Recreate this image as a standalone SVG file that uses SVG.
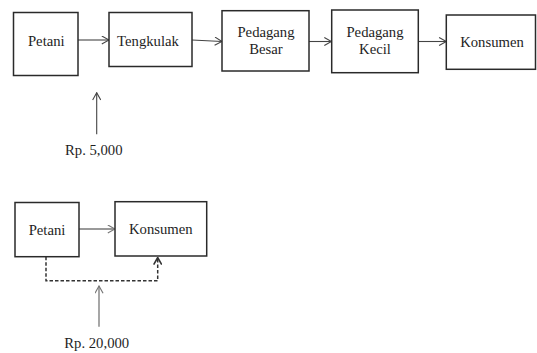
<svg xmlns="http://www.w3.org/2000/svg" width="537" height="353" viewBox="0 0 537 353">
<defs>
<style>
.box{fill:#fff;stroke:#2a2a2a;stroke-width:1.5}
.lbl{font-family:"Liberation Serif",Tinos,"Times New Roman",Times,"DejaVu Serif","Noto Serif",serif;font-size:14.7px;fill:#1e1e1e;text-anchor:middle}
.price{font-family:"Liberation Serif",Tinos,"Times New Roman",Times,"DejaVu Serif","Noto Serif",serif;font-size:14.7px;fill:#1e1e1e}
.c{fill:none;stroke:#444;stroke-width:1.1}
.cg{fill:none;stroke:#777;stroke-width:1.3}
.dash{fill:none;stroke:#333;stroke-width:1.5;stroke-dasharray:3.5 2}
</style>
<marker id="ah" viewBox="0 0 10 10" refX="9" refY="5" markerWidth="9" markerHeight="9" markerUnits="userSpaceOnUse" orient="auto">
<path d="M1,0.5 L9,5 L1,9.5" fill="none" stroke="#444" stroke-width="1.2"/>
</marker>
<marker id="ahg" viewBox="0 0 10 10" refX="9" refY="5" markerWidth="9" markerHeight="9" markerUnits="userSpaceOnUse" orient="auto">
<path d="M1,0.5 L9,5 L1,9.5" fill="none" stroke="#777" stroke-width="1.3"/>
</marker>
<marker id="ahd" viewBox="0 0 10 10" refX="9" refY="5" markerWidth="9" markerHeight="9" markerUnits="userSpaceOnUse" orient="auto">
<path d="M1,0.5 L9,5 L1,9.5" fill="none" stroke="#333" stroke-width="1.8"/>
</marker>
</defs>
<rect width="537" height="353" fill="#fff"/>

<g id="connectors">
<line class="c" x1="78" y1="40" x2="109" y2="40" marker-end="url(#ah)"/>
<line class="c" x1="192" y1="40" x2="222" y2="41.5" marker-end="url(#ah)"/>
<line class="c" x1="309" y1="41.5" x2="331.5" y2="41.5" marker-end="url(#ah)"/>
<line class="c" x1="418.3" y1="41.5" x2="446.3" y2="41.5" marker-end="url(#ah)"/>
<line class="c" x1="96.7" y1="134.3" x2="96.7" y2="92.7" marker-end="url(#ah)"/>
<line class="cg" x1="79" y1="229" x2="115" y2="229" marker-end="url(#ahg)"/>
<path class="dash" d="M46,256.7 V280.7 H157.7 V257.5" marker-end="url(#ahd)"/>
<line class="cg" x1="99" y1="326.7" x2="99" y2="286" marker-end="url(#ahg)"/>
</g>

<g id="petani1">
<rect class="box" x="13.5" y="12.5" width="64.5" height="63"/>
<text class="lbl" x="46.3" y="46">Petani</text>
</g>
<g id="tengkulak">
<rect class="box" x="109" y="12.5" width="83" height="54"/>
<text class="lbl" x="148" y="46">Tengkulak</text>
</g>
<g id="pedagang-besar">
<rect class="box" x="222" y="10.7" width="87" height="60.3"/>
<text class="lbl" x="266" y="37.3">Pedagang</text>
<text class="lbl" x="266" y="54.3">Besar</text>
</g>
<g id="pedagang-kecil">
<rect class="box" x="331.7" y="10" width="86.6" height="62.7"/>
<text class="lbl" x="375" y="37.3">Pedagang</text>
<text class="lbl" x="375" y="54.3">Kecil</text>
</g>
<g id="konsumen1">
<rect class="box" x="446.3" y="15" width="89.2" height="54.3"/>
<text class="lbl" x="492" y="46.7">Konsumen</text>
</g>
<g id="price1">
<text class="price" x="65" y="155">Rp. 5,000</text>
</g>

<g id="petani2">
<rect class="box" x="15" y="202.5" width="64" height="54.2"/>
<text class="lbl" x="47" y="235">Petani</text>
</g>
<g id="konsumen2">
<rect class="box" x="115" y="201.7" width="91.7" height="54.3"/>
<text class="lbl" x="160.8" y="234">Konsumen</text>
</g>
<g id="price2">
<text class="price" x="64.3" y="348.3">Rp. 20,000</text>
</g>
</svg>
